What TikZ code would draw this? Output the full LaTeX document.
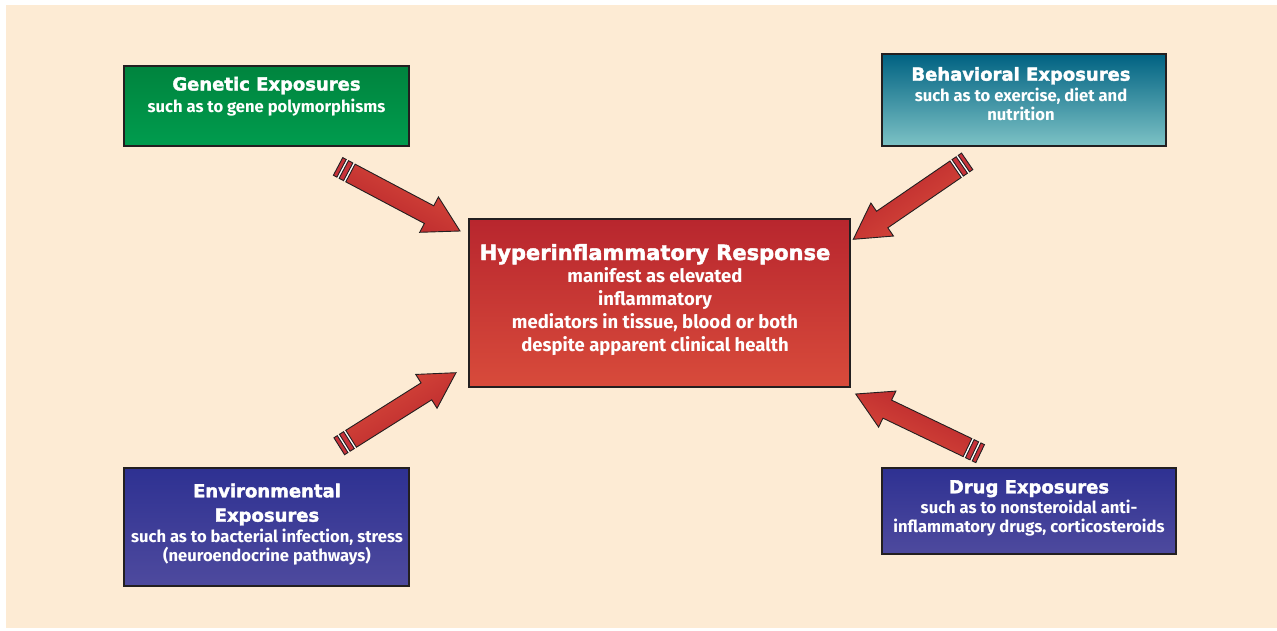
\documentclass[tikz,border=0pt]{standalone}
\usepackage{fontspec}
\setmainfont{Fira Sans}
\newfontfamily\heavyfont{DejaVu Sans}[BoldFeatures={FakeBold=2}]
\definecolor{bgc}{HTML}{FDEBD4}
\definecolor{edge}{HTML}{231F20}
\definecolor{greentop}{HTML}{00843E}
\definecolor{greenbot}{HTML}{009C4E}
\definecolor{tealtop}{HTML}{006282}
\definecolor{tealbot}{HTML}{7DC2C5}
\definecolor{redtop}{HTML}{B8262E}
\definecolor{redbot}{HTML}{D84B3B}
\definecolor{bluetop}{HTML}{2E3192}
\definecolor{bluebot}{HTML}{4E4A9E}
\definecolor{arrlight}{HTML}{DA4C3C}
\definecolor{arrdark}{HTML}{B7242B}
\definecolor{arrmid}{HTML}{C7323A}
\tikzset{
  box/.style={draw=edge, line width=2.5pt, inner sep=0pt, rectangle},
  ttl/.style={font=\heavyfont\bfseries\fontsize{18}{24.4}\selectfont, text=white, align=center, anchor=base, inner sep=0pt},
  sub/.style={font=\bfseries\fontsize{16.6}{19.6}\selectfont, text=white, align=center, anchor=base, inner sep=0pt},
  arrline/.style={draw=edge, line width=0.9pt, line join=miter},
}
\newcommand{\blockarrow}[2]{%
  \begin{scope}[shift={#1}, rotate=#2]
    \fill[white] (-138.5,-10) rectangle (-124,10);
    \draw[arrline, left color=arrlight, right color=arrdark, shading angle=#2]
      (0,0) -- (-35,20) -- (-35,10) -- (-124,10) -- (-124,-10) -- (-35,-10) -- (-35,-20) -- cycle;
    \draw[arrline, fill=arrmid] (-131.5,-10) rectangle (-126.5,10);
    \draw[arrline, fill=arrmid] (-138,-10) rectangle (-134,10);
  \end{scope}}
\begin{document}
\begin{tikzpicture}[x=1pt, y=-1pt]
\useasboundingbox (0,0) rectangle (1277,630);
\fill[bgc] (6,5) rectangle (1277,628);

% boxes
\node[box, top color=greentop, bottom color=greenbot, minimum width=285pt, minimum height=80pt] (gen) at (266.5,106) {};
\node[box, top color=tealtop, bottom color=tealbot, minimum width=284pt, minimum height=92pt] (beh) at (1024,100) {};
\node[box, top color=redtop, bottom color=redbot, minimum width=381pt, minimum height=168pt] (hyp) at (659.5,303) {};
\node[box, top color=bluetop, bottom color=bluebot, minimum width=285pt, minimum height=118pt] (env) at (266.5,527) {};
\node[box, top color=bluetop, bottom color=bluebot, minimum width=294pt, minimum height=86pt] (drug) at (1029,511) {};

% texts
\node[ttl] (genT) at (266.5,90.5) {Genetic Exposures};
\node[sub] (genS) at (266.5,112.3) {such as to gene polymorphisms};

\node[ttl] (behT) at (1021,80.7) {Behavioral Exposures};
\node[sub] (behS) at (1021,120.7) {such as to exercise, diet and\\nutrition};

\node[ttl, font=\heavyfont\bfseries\fontsize{21}{24}\selectfont] (hypT) at (655,260) {Hyperinflammatory Response};
\node[sub, font=\bfseries\fontsize{18.5}{23}\selectfont] (hypS) at (655,351.7) {manifest as elevated\\inflammatory\\mediators in tissue, blood or both\\despite apparent clinical health};

\node[ttl] (envT) at (267,521.7) {Environmental\\Exposures};
\node[sub] (envS) at (267,561.7) {such as to bacterial infection, stress\\(neuroendocrine pathways)};

\node[ttl] (drugT) at (1029,493.3) {Drug Exposures};
\node[sub] (drugS) at (1029,532.7) {such as to nonsteroidal anti-\\inflammatory drugs, corticosteroids};

% arrows
\coordinate (tipGen) at (460,231);
\coordinate (tipBeh) at (853.3,239.3);
\coordinate (tipEnv) at (456,372.7);
\coordinate (tipDrug) at (855.7,394);
\blockarrow{(tipGen)}{-27.9}
\blockarrow{(tipBeh)}{-145.6}
\blockarrow{(tipEnv)}{32.2}
\blockarrow{(tipDrug)}{154.4}
\end{tikzpicture}
\end{document}
